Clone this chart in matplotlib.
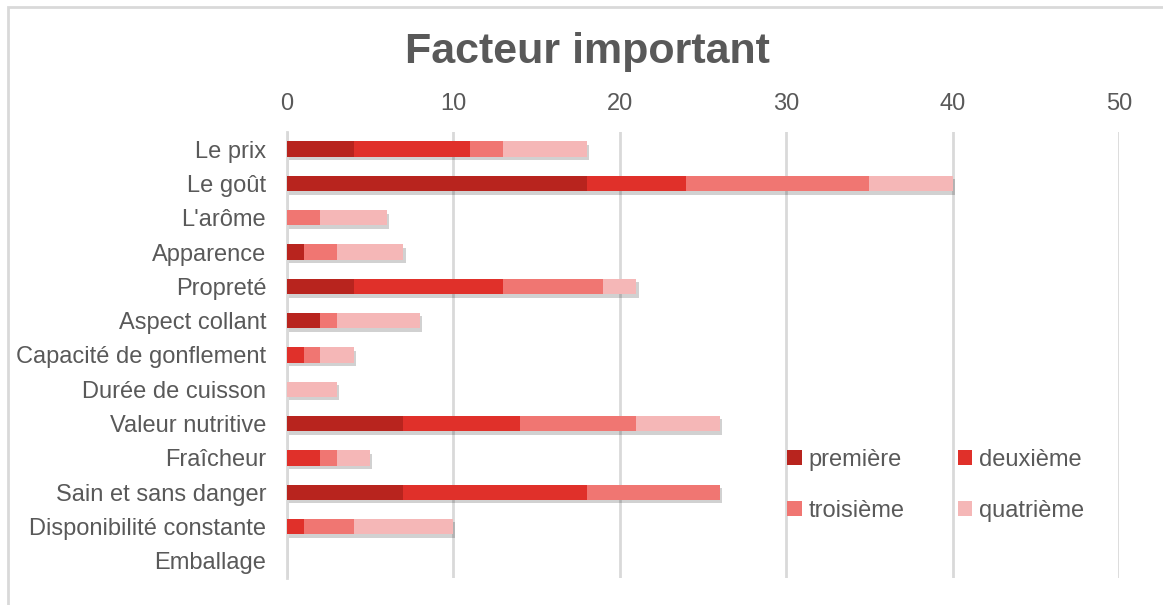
import matplotlib
matplotlib.use("Agg")
import matplotlib.pyplot as plt
import matplotlib.patheffects as pe
from matplotlib.patches import Rectangle, Patch
import numpy as np

plt.rcParams['font.family'] = ['Liberation Sans', 'DejaVu Sans']

categories = ["Le prix", "Le goût", "L'arôme", "Apparence", "Propreté",
              "Aspect collant", "Capacité de gonflement", "Durée de cuisson",
              "Valeur nutritive", "Fraîcheur", "Sain et sans danger",
              "Disponibilité constante", "Emballage"]
premiere = [4, 18, 0, 1, 4, 2, 0, 0, 7, 0, 7, 0, 0]
deuxieme = [7, 6, 0, 0, 9, 0, 1, 0, 7, 2, 11, 1, 0]
troisieme = [2, 11, 2, 2, 6, 1, 1, 0, 7, 1, 8, 3, 0]
quatrieme = [5, 5, 4, 4, 2, 5, 2, 3, 5, 2, 0, 6, 0]
series_names = ["première", "deuxième", "troisième", "quatrième"]
series_colors = ["#b8241e", "#e0302a", "#f07672", "#f5b7b7"]
x_ticks = [0, 10, 20, 30, 40, 50]

text_color = "#595959"

fig = plt.figure(figsize=(11.63, 6.05), dpi=100)
ax = fig.add_axes([287 / 1163, 1 - 578 / 605, (1119 - 287) / 1163, (578 - 132) / 605])

y = np.arange(len(categories))
left = np.zeros(len(categories))
shadow = [pe.SimplePatchShadow(offset=(1.5, -2.5), shadow_rgbFace="#000000", alpha=0.18),
          pe.Normal()]
for name, vals, col in zip(series_names, [premiere, deuxieme, troisieme, quatrieme], series_colors):
    vals = np.array(vals, dtype=float)
    bars = ax.barh(y, vals, left=left, height=0.45, color=col,
                   zorder=3, linewidth=0)
    for b in bars:
        b.set_path_effects(shadow)
    left += vals

ax.set_xlim(0, 50)
ax.set_ylim(len(categories) - 0.5, -0.5)
ax.set_xticks(x_ticks)
ax.xaxis.tick_top()
ax.tick_params(axis='x', length=0, pad=12, labelsize=17, labelcolor=text_color)
ax.set_yticks(y)
ax.set_yticklabels(categories)
ax.tick_params(axis='y', length=0, pad=15, labelsize=17, labelcolor=text_color)
ax.grid(axis='x', color="#d9d9d9", linewidth=2, zorder=0)
for s in ["top", "right", "bottom"]:
    ax.spines[s].set_visible(False)
ax.spines["left"].set_color("#d9d9d9")
ax.spines["left"].set_linewidth(2)

fig.text(587 / 1163, 1 - 52 / 605, "Facteur important", ha="center", va="center",
         fontsize=31, fontweight="bold", color=text_color)

# legend laid out row by row: première, deuxième / troisième, quatrième
handles = [Patch(facecolor=c, label=n) for n, c in zip(series_names, series_colors)]
order = [0, 2, 1, 3]
leg = ax.legend([handles[i] for i in order], [series_names[i] for i in order],
                loc="lower left", bbox_to_anchor=(0.576, 0.079), ncol=2, frameon=False,
                fontsize=17, labelcolor=text_color, handlelength=0.6, handleheight=0.6,
                handletextpad=0.3, columnspacing=2.26, labelspacing=1.21)

# chart border
fig.patches.append(Rectangle((8 / 1163, -0.05), 1.1, 1 - 7 / 605 + 0.05,
                             transform=fig.transFigure, fill=False,
                             edgecolor="#d9d9d9", linewidth=2))

fig.savefig("out.png", dpi=100)
